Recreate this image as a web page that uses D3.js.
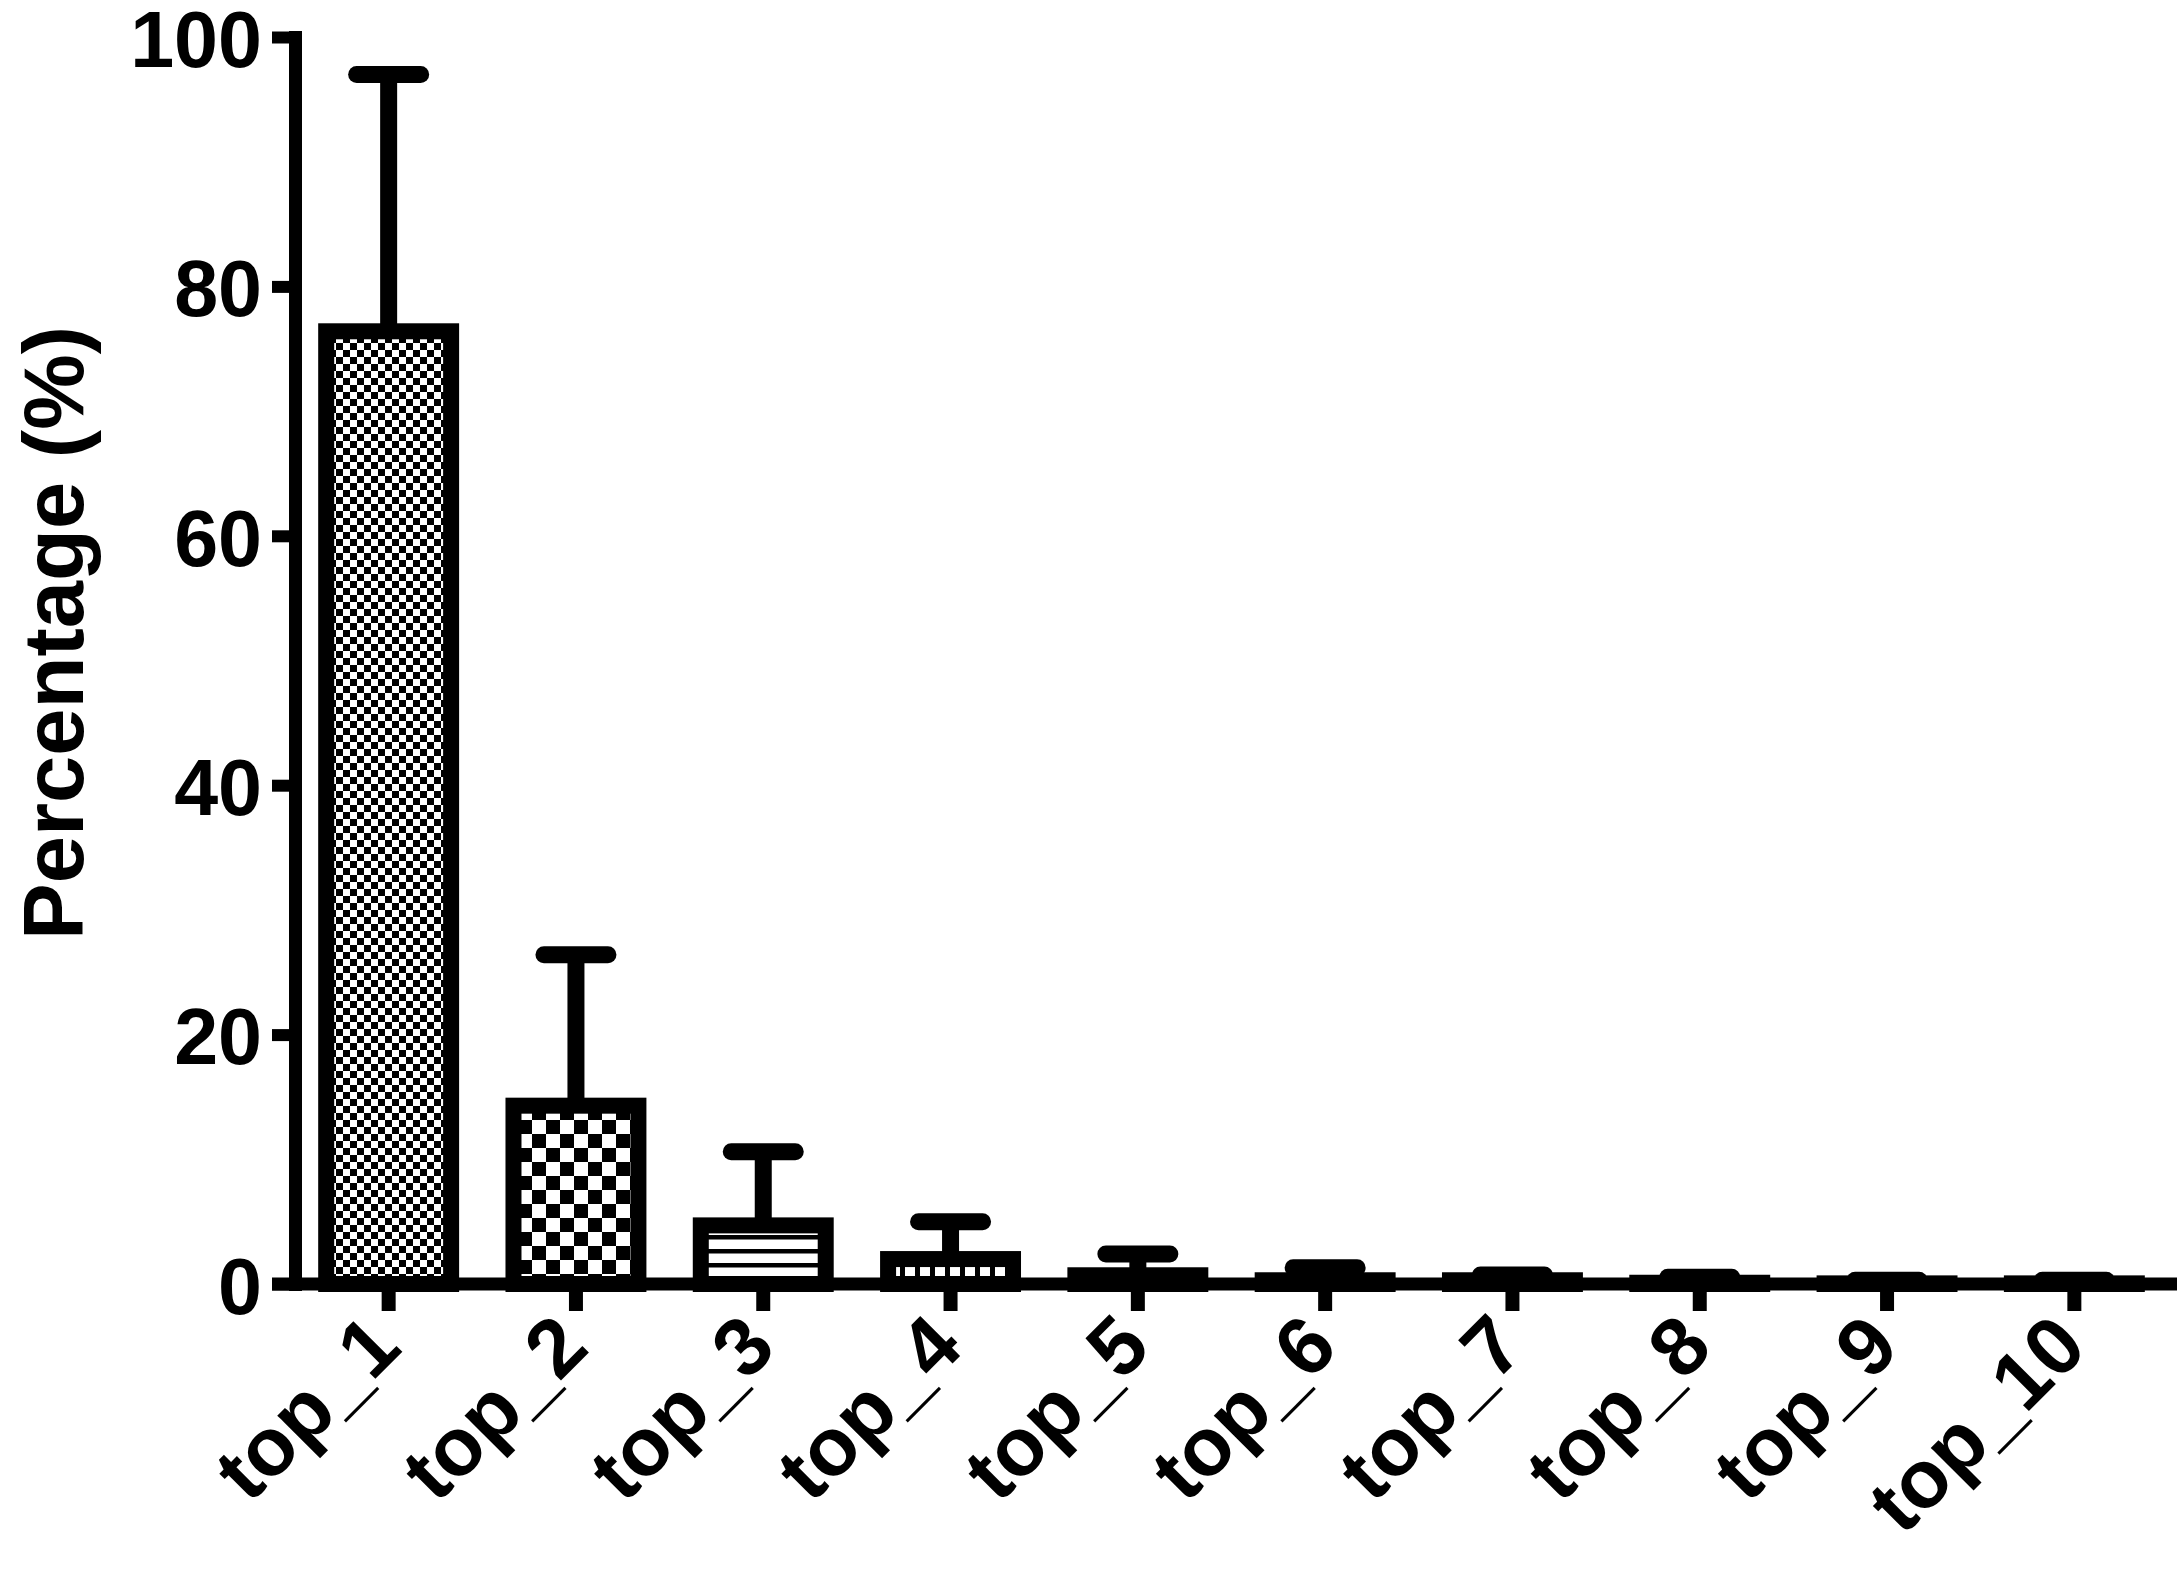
<!DOCTYPE html>
<html>
<head>
<meta charset="utf-8">
<script src="https://cdn.jsdelivr.net/npm/d3@7"></script>
<style>
  html, body { margin: 0; padding: 0; background: #fff; }
  svg { display: block; }
  text { font-family: "Liberation Sans", Arial, Helvetica, sans-serif; font-weight: bold; fill: #000; }
</style>
</head>
<body>
<svg id="chart" width="2182" height="1571"></svg>
<script>
// ---- data ----
const categories = ["top_1", "top_2", "top_3", "top_4", "top_5", "top_6", "top_7", "top_8", "top_9", "top_10"];
const meanValues = [76.4, 14.3, 4.7, 2.0, 0.7, 0.3, 0.3, 0.1, 0.05, 0.05];
const upperValues = [97.0, 26.4, 10.6, 5.0, 2.4, 1.3, 0.72, 0.55, 0.3, 0.3];
const yTickValues = [0, 20, 40, 60, 80, 100];
const fillPatterns = ["fine", "coarse", "hstripe", "vstripe", "plain", "plain", "plain", "plain", "plain", "plain"];
const yTitle = "Percentage (%)";

// ---- layout ----
const svg = d3.select("#chart");
const axisX = 295, axisY0 = 1284, axisYTop = 37, rightEnd = 2168;

const y = d3.scaleLinear().domain([0, 100]).range([axisY0, axisYTop]);
const x = d3.scaleBand().domain(categories).range([axisX, rightEnd])
  .paddingInner(0.333).paddingOuter(0.1665);

// ---- patterns ----
const defs = svg.append("defs");
function checker(id, cell) {
  const p = defs.append("pattern").attr("id", id).attr("patternUnits", "userSpaceOnUse")
    .attr("width", cell * 2).attr("height", cell * 2);
  p.append("rect").attr("width", cell * 2).attr("height", cell * 2).attr("fill", "#fff");
  p.append("rect").attr("x", cell).attr("y", 0).attr("width", cell).attr("height", cell).attr("fill", "#000");
  p.append("rect").attr("x", 0).attr("y", cell).attr("width", cell).attr("height", cell).attr("fill", "#000");
}
checker("fine", 7);
checker("coarse", 14);
{
  const p = defs.append("pattern").attr("id", "hstripe").attr("patternUnits", "userSpaceOnUse")
    .attr("width", 14).attr("height", 14).attr("y", 3);
  p.append("rect").attr("width", 14).attr("height", 14).attr("fill", "#fff");
  p.append("rect").attr("y", 0).attr("width", 14).attr("height", 4.5).attr("fill", "#000");
}
{
  const p = defs.append("pattern").attr("id", "vstripe").attr("patternUnits", "userSpaceOnUse")
    .attr("width", 15).attr("height", 15);
  p.append("rect").attr("width", 15).attr("height", 15).attr("fill", "#fff");
  p.append("rect").attr("x", 0).attr("width", 5).attr("height", 15).attr("fill", "#000");
}

const data = categories.map((c, i) => ({ c, v: meanValues[i], u: upperValues[i], p: fillPatterns[i] }));

// ---- bars ----
svg.append("g").selectAll("rect").data(data).join("rect")
  .attr("x", d => x(d.c))
  .attr("width", x.bandwidth())
  .attr("y", d => y(d.v))
  .attr("height", d => y(0) - y(d.v))
  .attr("fill", d => d.p === "plain" ? "#fff" : `url(#${d.p})`)
  .attr("stroke", "#000")
  .attr("stroke-width", 16)
  .attr("stroke-linejoin", "miter");

// ---- error bars ----
const eb = svg.append("g");
eb.selectAll("line.stem").data(data).join("line").attr("class", "stem")
  .attr("x1", d => x(d.c) + x.bandwidth() / 2)
  .attr("x2", d => x(d.c) + x.bandwidth() / 2)
  .attr("y1", d => y(d.v))
  .attr("y2", d => y(d.u))
  .attr("stroke", "#000").attr("stroke-width", 17);
eb.selectAll("line.cap").data(data).join("line").attr("class", "cap")
  .attr("x1", d => x(d.c) + x.bandwidth() / 2 - 32)
  .attr("x2", d => x(d.c) + x.bandwidth() / 2 + 32)
  .attr("y1", d => y(d.u))
  .attr("y2", d => y(d.u))
  .attr("stroke", "#000").attr("stroke-width", 17).attr("stroke-linecap", "round");

// ---- y axis ----
const gy = svg.append("g").attr("transform", `translate(${axisX},0)`)
  .call(d3.axisLeft(y).tickValues(yTickValues).tickSize(23).tickSizeOuter(0).tickPadding(10));
gy.select(".domain").attr("stroke", "#000").attr("stroke-width", 13).attr("stroke-linecap", "square");
gy.selectAll(".tick line").attr("stroke", "#000").attr("stroke-width", 12);
gy.selectAll(".tick text").attr("font-size", 79).attr("font-family", null).attr("dy", "0.37em");

// ---- x axis ----
const gx = svg.append("g").attr("transform", `translate(0,${axisY0})`)
  .call(d3.axisBottom(x).tickSize(27).tickSizeOuter(0));
gx.select(".domain").remove();
gx.append("line").attr("x1", axisX - 23).attr("x2", rightEnd + 9)
  .attr("stroke", "#000").attr("stroke-width", 13);
gx.selectAll(".tick line").attr("stroke", "#000").attr("stroke-width", 14);
gx.selectAll(".tick text")
  .attr("font-size", 82).attr("font-family", null)
  .attr("x", 0).attr("y", 0).attr("dy", "0.35em")
  .attr("text-anchor", "end")
  .attr("transform", "translate(-5,46) rotate(-45)");

// ---- y title ----
svg.append("text")
  .attr("transform", "translate(83,633) rotate(-90)")
  .attr("text-anchor", "middle")
  .attr("font-size", 85)
  .text(yTitle);
</script>
</body>
</html>
